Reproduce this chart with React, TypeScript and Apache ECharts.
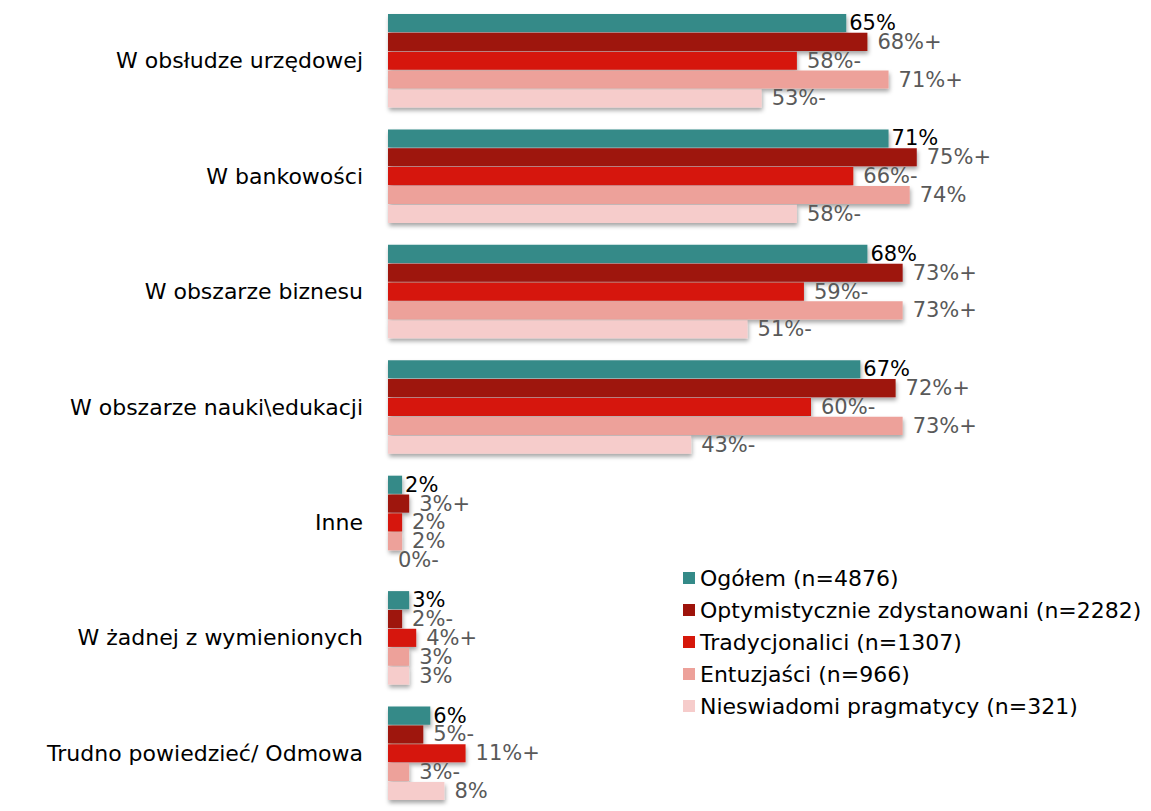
import React, { useEffect, useRef } from "react";
import * as echarts from "echarts";

const categories = [
  "W obsłudze urzędowej",
  "W bankowości",
  "W obszarze biznesu",
  "W obszarze nauki\\edukacji",
  "Inne",
  "W żadnej z wymienionych",
  "Trudno powiedzieć/ Odmowa",
];

const seriesNames = [
  "Ogółem (n=4876)",
  "Optymistycznie zdystanowani (n=2282)",
  "Tradycjonalici (n=1307)",
  "Entuzjaści (n=966)",
  "Nieswiadomi pragmatycy (n=321)",
];

const ogolem = [65, 71, 68, 67, 2, 3, 6];
const optymistycznie = [68, 75, 73, 72, 3, 2, 5];
const tradycjonalici = [58, 66, 59, 60, 2, 4, 11];
const entuzjasci = [71, 74, 73, 73, 2, 3, 3];
const nieswiadomi = [53, 58, 51, 43, 0, 3, 8];

const ogolemSig = ["", "", "", "", "", "", ""];
const optymistycznieSig = ["+", "+", "+", "+", "+", "-", "-"];
const tradycjonaliciSig = ["-", "-", "-", "-", "", "+", "+"];
const entuzjasciSig = ["+", "", "+", "+", "", "", "-"];
const nieswiadomiSig = ["-", "-", "-", "-", "-", "", ""];

const colors = ["#348a88", "#9e130b", "#d6170a", "#eda19a", "#f6cccb"];

const FONT = "DejaVu Sans";

export default function App() {
  const ref = useRef<HTMLDivElement>(null);

  useEffect(() => {
    if (!ref.current) return;
    const chart = echarts.init(ref.current, undefined, { renderer: "svg" });
    const values = [ogolem, optymistycznie, tradycjonalici, entuzjasci, nieswiadomi];
    const sigs = [ogolemSig, optymistycznieSig, tradycjonaliciSig, entuzjasciSig, nieswiadomiSig];

    const series = values.map((data, i) => ({
      name: seriesNames[i],
      type: "bar",
      data,
      barGap: "4%",
      barCategoryGap: "19%",
      itemStyle: {
        color: colors[i],
        shadowColor: "rgba(0,0,0,0.35)",
        shadowBlur: 4,
        shadowOffsetX: 1,
        shadowOffsetY: 3,
      },
      label: {
        show: true,
        position: "right",
        distance: i === 0 ? 3 : 10,
        fontFamily: FONT,
        fontSize: 21,
        color: i === 0 ? "#000000" : "#595959",
        formatter: (p: any) => `${p.value}%${sigs[i][p.dataIndex]}`,
      },
    }));

    chart.setOption({
      animation: false,
      textStyle: { fontFamily: FONT },
      legend: {
        orient: "vertical",
        left: 683,
        top: 567,
        padding: 0,
        itemWidth: 12,
        itemHeight: 12,
        itemGap: 10,
        icon: "rect",
        textStyle: { fontFamily: FONT, fontSize: 22, color: "#000000" },
        data: seriesNames,
      },
      grid: { left: 388, top: 3, width: 705, height: 817 },
      xAxis: { type: "value", min: 0, max: 100, show: false },
      yAxis: {
        type: "category",
        inverse: true,
        data: categories,
        axisLine: { show: false },
        axisTick: { show: false },
        axisLabel: { margin: 25, fontFamily: FONT, fontSize: 22, color: "#000000" },
      },
      series,
    });
    return () => chart.dispose();
  }, []);

  return (
    <div
      ref={ref}
      style={{ position: "fixed", left: 0, top: 0, width: 1151, height: 811, background: "#fff" }}
    />
  );
}
